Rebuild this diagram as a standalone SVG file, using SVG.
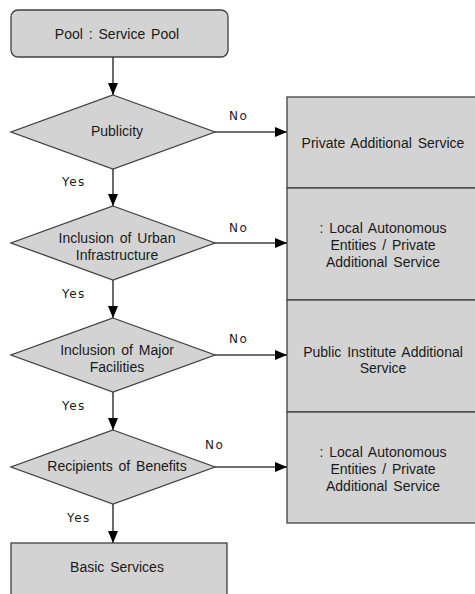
<svg xmlns="http://www.w3.org/2000/svg" width="475" height="594" viewBox="0 0 475 594">
<style>
.shape{fill:#d3d3d3;stroke:#404040;stroke-width:1.3}
.t{font-family:"Liberation Sans",Arial,sans-serif;font-size:14px;fill:#1a1a1a;text-anchor:middle;word-spacing:2px}
.lbl{font-family:"DejaVu Sans","Liberation Sans",sans-serif;font-size:12px;fill:#1a1a1a;letter-spacing:1.5px}
.v{stroke:#1a1a1a;stroke-width:1.3;fill:none}
.h{stroke:#404040;stroke-width:1.3;fill:none}
</style>
<defs>
<marker id="ah" markerUnits="userSpaceOnUse" markerWidth="12" markerHeight="10" refX="12" refY="5" orient="auto">
<path d="M0,0 L12,5 L0,10 z" fill="#000"/>
</marker>
</defs>
<rect width="475" height="594" fill="#fff"/>
<g id="connectors">
<line class="v" x1="113" y1="57" x2="113" y2="95" marker-end="url(#ah)"/>
<line class="v" x1="113" y1="169" x2="113" y2="206" marker-end="url(#ah)"/>
<line class="v" x1="113" y1="280" x2="113" y2="318" marker-end="url(#ah)"/>
<line class="v" x1="113" y1="392" x2="113" y2="430" marker-end="url(#ah)"/>
<line class="v" x1="113" y1="504" x2="113" y2="543" marker-end="url(#ah)"/>
<line class="h" x1="215" y1="132" x2="287" y2="132" marker-end="url(#ah)"/>
<line class="h" x1="215" y1="243" x2="287" y2="243" marker-end="url(#ah)"/>
<line class="h" x1="215" y1="355" x2="287" y2="355" marker-end="url(#ah)"/>
<line class="h" x1="215" y1="467" x2="287" y2="467" marker-end="url(#ah)"/>
<text class="lbl" x="229" y="120">No</text>
<text class="lbl" x="229" y="232">No</text>
<text class="lbl" x="229" y="343">No</text>
<text class="lbl" x="205" y="449">No</text>
<text class="lbl" x="62" y="186">Yes</text>
<text class="lbl" x="62" y="298">Yes</text>
<text class="lbl" x="62" y="410">Yes</text>
<text class="lbl" x="67" y="522">Yes</text>
</g>
<g id="pool">
<rect class="shape" x="11" y="10" width="217" height="47" rx="7"/>
<text class="t" x="117" y="39">Pool : Service Pool</text>
</g>
<g id="publicity">
<polygon class="shape" points="113,95 215,132 113,169 11,132"/>
<text class="t" x="117" y="136">Publicity</text>
</g>
<g id="urban">
<polygon class="shape" points="113,206 215,243 113,280 11,243"/>
<text class="t" x="117" y="243">Inclusion of Urban</text>
<text class="t" x="117" y="260">Infrastructure</text>
</g>
<g id="major">
<polygon class="shape" points="113,318 215,355 113,392 11,355"/>
<text class="t" x="117" y="355">Inclusion of Major</text>
<text class="t" x="117" y="372">Facilities</text>
</g>
<g id="recipients">
<polygon class="shape" points="113,430 215,467 113,504 11,467"/>
<text class="t" x="117" y="471">Recipients of Benefits</text>
</g>
<g id="basic">
<rect class="shape" x="11" y="543" width="216" height="60"/>
<text class="t" x="117" y="572">Basic Services</text>
</g>
<g id="private">
<rect class="shape" x="287" y="97" width="200" height="91"/>
<text class="t" x="383" y="148">Private Additional Service</text>
</g>
<g id="local1">
<rect class="shape" x="287" y="188" width="200" height="112"/>
<text class="t" x="383" y="233">: Local Autonomous</text>
<text class="t" x="383" y="250">Entities / Private</text>
<text class="t" x="383" y="267">Additional Service</text>
</g>
<g id="public">
<rect class="shape" x="287" y="300" width="200" height="112"/>
<text class="t" x="383" y="357">Public Institute Additional</text>
<text class="t" x="383" y="373">Service</text>
</g>
<g id="local2">
<rect class="shape" x="287" y="412" width="200" height="111"/>
<text class="t" x="383" y="457">: Local Autonomous</text>
<text class="t" x="383" y="474">Entities / Private</text>
<text class="t" x="383" y="491">Additional Service</text>
</g>
</svg>
